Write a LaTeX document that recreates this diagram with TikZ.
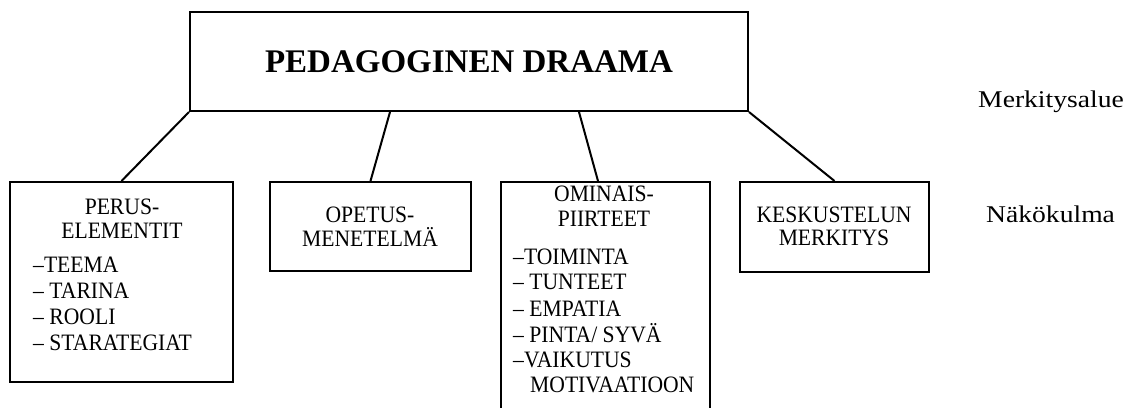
\documentclass[tikz,border=0pt]{standalone}
\usepackage{fontspec}
\setmainfont{Liberation Serif}
\newfontfamily\levelfont[FakeStretch=1.15]{Liberation Serif}
\newfontfamily\boxfont[FakeStretch=0.92]{Liberation Serif}
\usetikzlibrary{calc}
\tikzset{
  box/.style={draw, line width=2pt, inner sep=0pt, rectangle},
  link/.style={line width=2pt},
  body/.style={font=\boxfont\fontsize{23.5}{27}\selectfont, inner sep=0pt},
  leveltext/.style={font=\levelfont\fontsize{24}{28}\selectfont, inner sep=0pt},
  titletext/.style={font=\fontsize{33}{38}\selectfont\bfseries, inner sep=0pt},
}
\begin{document}
\begin{tikzpicture}[x=1pt,y=1pt]
\useasboundingbox (0,0) rectangle (1129,407);
\clip (0,0) rectangle (1129,407);
\fill[white] (0,0) rectangle (1129,407);

% boxes
\node[box, minimum width=558pt, minimum height=99pt] (top) at (469,345.5) {};
\node[box, minimum width=223pt, minimum height=200pt] (b1) at (121.5,125) {};
\node[box, minimum width=201pt, minimum height=89pt] (b2) at (370.5,180.5) {};
\node[box, minimum width=209pt, minimum height=245pt] (b3) at (605.5,102.5) {};
\node[box, minimum width=189pt, minimum height=90pt] (b4) at (834.5,180) {};

% connectors
\coordinate (t2) at ($(top.south west)+(201,0)$);
\coordinate (t3) at ($(top.south west)+(390,0)$);
\coordinate (e3) at ($(b3.north west)+(98,0)$);
\draw[link] (top.south west) -- (b1.north);
\draw[link] (t2) -- (b2.north);
\draw[link] (t3) -- (e3);
\draw[link] (top.south east) -- (b4.north);

% title
\node[titletext, anchor=base] (ttl) at (469,334) {PEDAGOGINEN DRAAMA};

% level labels
\node[leveltext, anchor=base west] (lvl1) at (978,299) {Merkitysalue};
\node[leveltext, anchor=base west] (lvl2) at (986,184) {Näkökulma};

% box 1
\node[body, anchor=base] (h1a) at (122,192) {PERUS-};
\node[body, anchor=base] (h1b) at (122,168) {ELEMENTIT};
\node[body, anchor=base west] (l1a) at (33,134) {–TEEMA};
\node[body, anchor=base west] (l1b) at (33,108) {– TARINA};
\node[body, anchor=base west] (l1c) at (33,82) {– ROOLI};
\node[body, anchor=base west] (l1d) at (33,57) {– STARATEGIAT};

% box 2
\node[body, anchor=base] (h2a) at (370,184) {OPETUS-};
\node[body, anchor=base] (h2b) at (370,160) {MENETELMÄ};

% box 3
\node[body, anchor=base] (h3a) at (604,205) {OMINAIS-};
\node[body, anchor=base] (h3b) at (604,180) {PIIRTEET};
\node[body, anchor=base west] (l3a) at (513,142) {–TOIMINTA};
\node[body, anchor=base west] (l3b) at (513,117) {– TUNTEET};
\node[body, anchor=base west] (l3c) at (513,91) {– EMPATIA};
\node[body, anchor=base west] (l3d) at (513,65) {– PINTA/ SYVÄ};
\node[body, anchor=base west] (l3e) at (513,40) {–VAIKUTUS};
\node[body, anchor=base west] (l3f) at (530,15) {MOTIVAATIOON};

% box 4
\node[body, anchor=base] (h4a) at (834,184) {KESKUSTELUN};
\node[body, anchor=base] (h4b) at (834,161) {MERKITYS};
\end{tikzpicture}
\end{document}
